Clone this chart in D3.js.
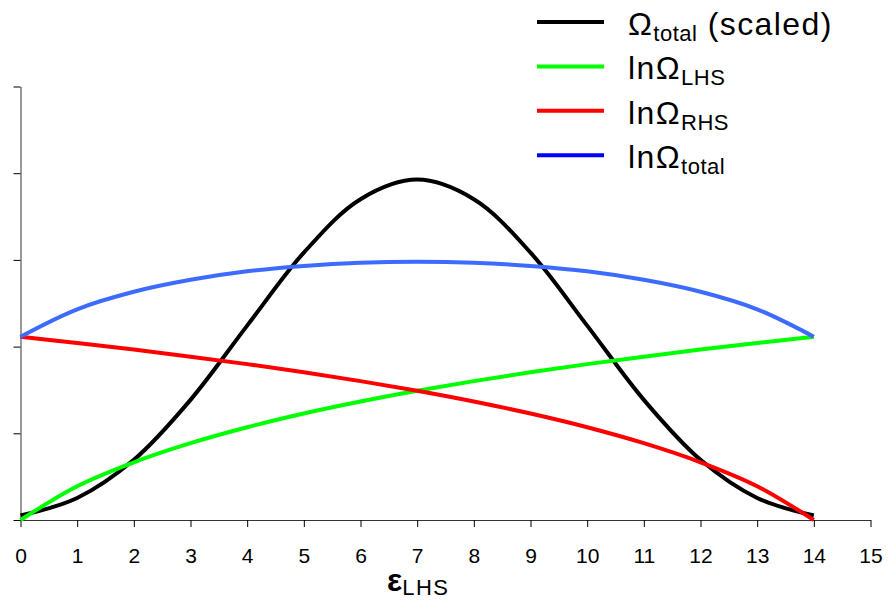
<!DOCTYPE html>
<html>
<head>
<meta charset="utf-8">
<script src="https://cdn.jsdelivr.net/npm/d3@7"></script>
<style>
  body { margin: 0; background: #fff; }
  svg { font-family: "Liberation Sans", Arial, sans-serif; }
</style>
</head>
<body>
<svg width="888" height="600"></svg>
<script>
// energy quanta in LHS solid
const eps = [0, 1, 2, 3, 4, 5, 6, 7, 8, 9, 10, 11, 12, 13, 14];
const omegaTotalScaled = [0.26, 1.27, 3.47, 6.93, 11.21, 15.42, 18.50, 19.63, 18.50, 15.42, 11.21, 6.93, 3.47, 1.27, 0.26];
const lnOmegaLHS = [0, 1.95, 3.33, 4.43, 5.35, 6.14, 6.83, 7.45, 8.01, 8.52, 8.99, 9.42, 9.83, 10.21, 10.57];
const lnOmegaRHS = [10.57, 10.21, 9.83, 9.42, 8.99, 8.52, 8.01, 7.45, 6.83, 6.14, 5.35, 4.43, 3.33, 1.95, 0];
const lnOmegaTotal = [10.57, 12.15, 13.16, 13.85, 14.34, 14.65, 14.84, 14.90, 14.84, 14.65, 14.34, 13.85, 13.16, 12.15, 10.57];
const xTicks = [0, 1, 2, 3, 4, 5, 6, 7, 8, 9, 10, 11, 12, 13, 14, 15];
const yTicks = [0, 5, 10, 15, 20, 25];

const series = [
    { name: 'Ω', sub: 'total', tail: ' (scaled)', values: omegaTotalScaled, color: '#000000', key: '#000000' },
    { name: 'lnΩ', sub: 'LHS', tail: '', values: lnOmegaLHS, color: '#00ff00', key: '#00ff00' },
    { name: 'lnΩ', sub: 'RHS', tail: '', values: lnOmegaRHS, color: '#ff0000', key: '#ff0000' },
    { name: 'lnΩ', sub: 'total', tail: '', values: lnOmegaTotal, color: '#3d6bff', key: '#0000ff' }
];

const svg = d3.select('svg');
const margens = { left: 20.5, right: 17.5, top: 86.5, bottom: 80 };
const height = 600;

// ---- Escalas
const mapX = d3.scaleLinear().domain([0, 15]).range([margens.left, 888 - margens.right]);
const mapY = d3.scaleLinear().domain([0, 25]).range([height - margens.bottom, margens.top]);

// ---- Eixos
const gy = svg.append('g')
    .attr('transform', `translate(${margens.left},0)`)
    .call(d3.axisLeft(mapY).tickValues(yTicks).tickFormat('').tickSize(7).tickSizeOuter(0));
gy.select('.domain').attr('stroke', '#333');

const gx = svg.append('g')
    .attr('transform', `translate(0,${height - margens.bottom})`)
    .call(d3.axisBottom(mapX).tickValues(xTicks).tickSize(7).tickSizeOuter(0));
gx.select('.domain').attr('stroke', '#333');
gx.selectAll('text')
    .attr('y', 43)
    .attr('dy', 0)
    .attr('fill', '#000')
    .style('font-size', '21px')
    .style('font-family', '"Liberation Sans", Arial, sans-serif');

// x label
const xl = svg.append('text')
    .attr('x', 387)
    .attr('y', 591)
    .attr('fill', '#000');
xl.append('tspan').style('font-size', '32px').style('font-weight', 'bold').text('ε');
xl.append('tspan').attr('dy', 4).style('font-size', '22px').style('letter-spacing', '1.5px').text('LHS');

// ---- Linhas
const line = d3.line()
    .curve(d3.curveCatmullRom.alpha(0.5))
    .x((d, i) => mapX(eps[i]))
    .y(d => mapY(d));

svg.append('g').selectAll('path')
    .data(series)
    .join('path')
    .attr('d', d => line(d.values))
    .attr('fill', 'none')
    .attr('stroke', d => d.color)
    .attr('stroke-width', 4)
    .attr('stroke-linejoin', 'round');

// ---- Legenda
const legend = svg.append('g')
    .selectAll('g')
    .data(series)
    .join('g')
    .attr('transform', (d, i) => `translate(0,${22 + i * 44.4})`);

legend.append('line')
    .attr('x1', 537)
    .attr('x2', 604)
    .attr('stroke', d => d.key)
    .attr('stroke-width', 4);

const lt = legend.append('text')
    .attr('x', 628)
    .attr('y', 13)
    .attr('fill', '#000')
    .style('font-size', '32px')
    .style('letter-spacing', '1.4px');
lt.append('tspan').text(d => d.name);
lt.append('tspan').attr('dy', 6).style('font-size', '22px').style('letter-spacing', '0.5px').text(d => d.sub);
lt.append('tspan').attr('dy', -6).text(d => d.tail);
</script>
</body>
</html>
